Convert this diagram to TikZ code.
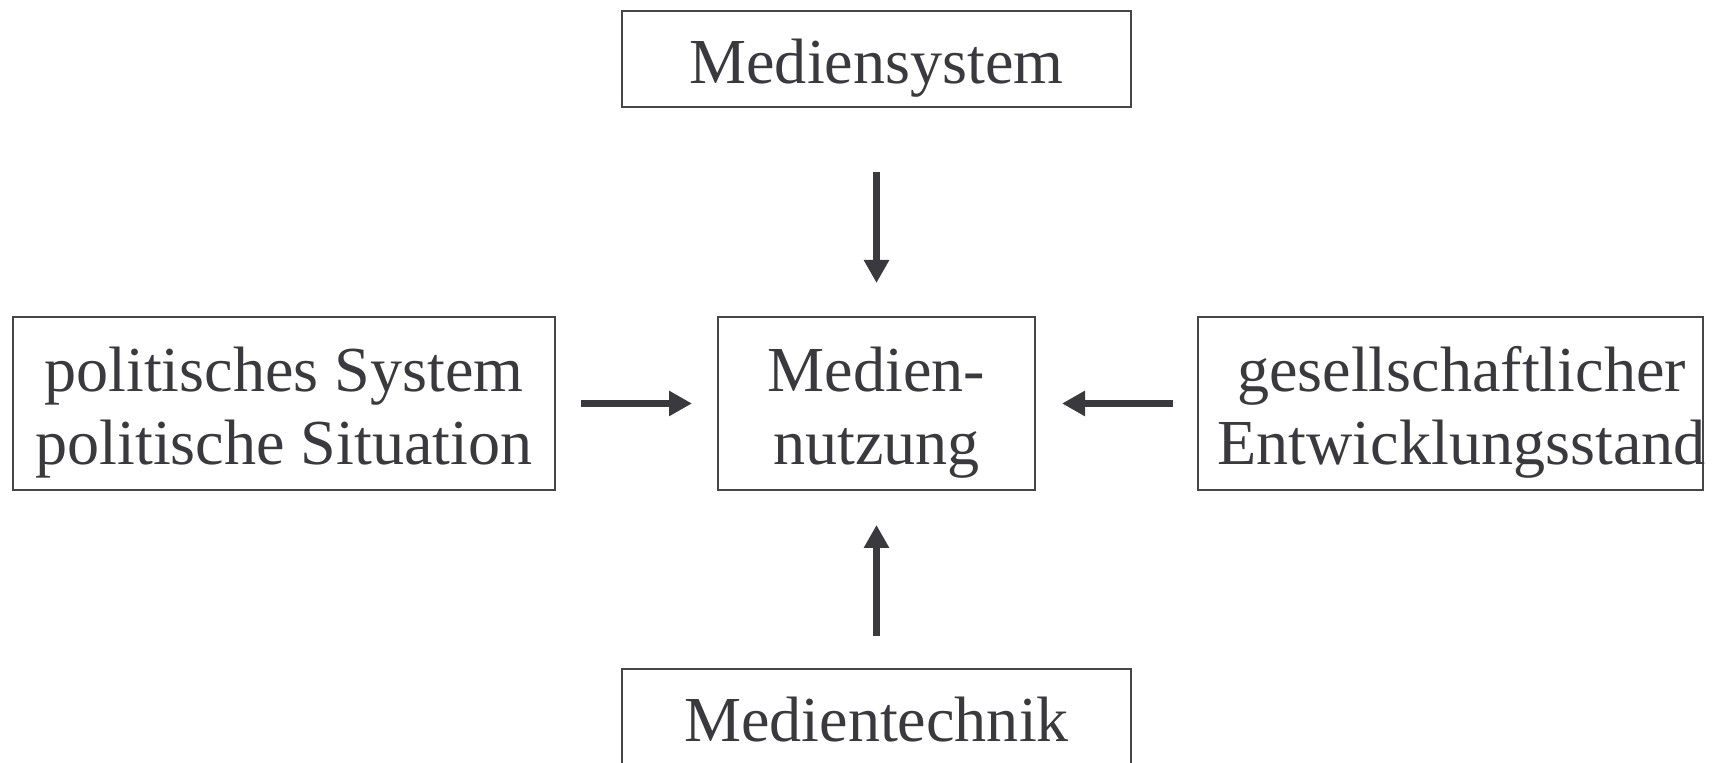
\documentclass[tikz,border=0pt]{standalone}
\usepackage{fontspec}
\setmainfont{Liberation Serif}
\usepackage{tikz}
\usetikzlibrary{positioning, arrows.meta}
\definecolor{ink}{RGB}{58,57,62}
\definecolor{frame}{RGB}{70,70,74}
\newcommand{\topstrut}{\rule{0pt}{0.64cm}}
\newcommand{\botstrut}{\rule[-0.15cm]{0pt}{0.15cm}}
\newcommand{\nudge}{\hspace*{0.22cm}}
\tikzset{>={Triangle[length=0.23cm, width=0.24cm]}}
\tikzset{factor/.style={draw=frame, line width=0.02cm, inner sep=0pt, align=center, text=ink,
		font=\fontsize{18.25pt}{20.7pt}\selectfont}}
\tikzset{influence/.style={->, draw=ink, fill=ink, line width=0.07cm}}

\begin{document}
\begin{tikzpicture}
		\useasboundingbox (0, 0) rectangle (17.17, 7.63);
		\begin{scope}[every node/.append style={factor}]
			\node[minimum width=5.09cm, minimum height=0.96cm] (system) at (8.765, 7.04) {\topstrut Mediensystem\botstrut};
			\node[minimum width=3.17cm, minimum height=1.73cm] (nutzung) at (8.765, 3.595) {\topstrut Medien-\\nutzung\botstrut};
			\node[minimum width=5.42cm, minimum height=1.73cm] (politik) at (2.84, 3.595) {\topstrut politisches System\\politische Situation\botstrut};
			\node[minimum width=5.05cm, minimum height=1.73cm, inner xsep=-0.03cm] (stand) at (14.505, 3.595) {\topstrut\nudge gesellschaftlicher\\\nudge Entwicklungsstand\botstrut};
			\node[minimum width=5.09cm, minimum height=0.96cm] (technik) at (8.765, 0.46) {\topstrut Medientechnik\botstrut};
		\end{scope}

		\draw[influence, shorten <=0.64cm, shorten >=0.33cm] (system) -- (nutzung);
		\draw[influence, shorten <=0.32cm, shorten >=0.34cm] (technik) -- (nutzung);
		\draw[influence, shorten <=0.25cm, shorten >=0.25cm] (politik) -- (nutzung);
		\draw[influence, shorten <=0.24cm, shorten >=0.26cm] (stand) -- (nutzung);
	\end{tikzpicture}
\end{document}
